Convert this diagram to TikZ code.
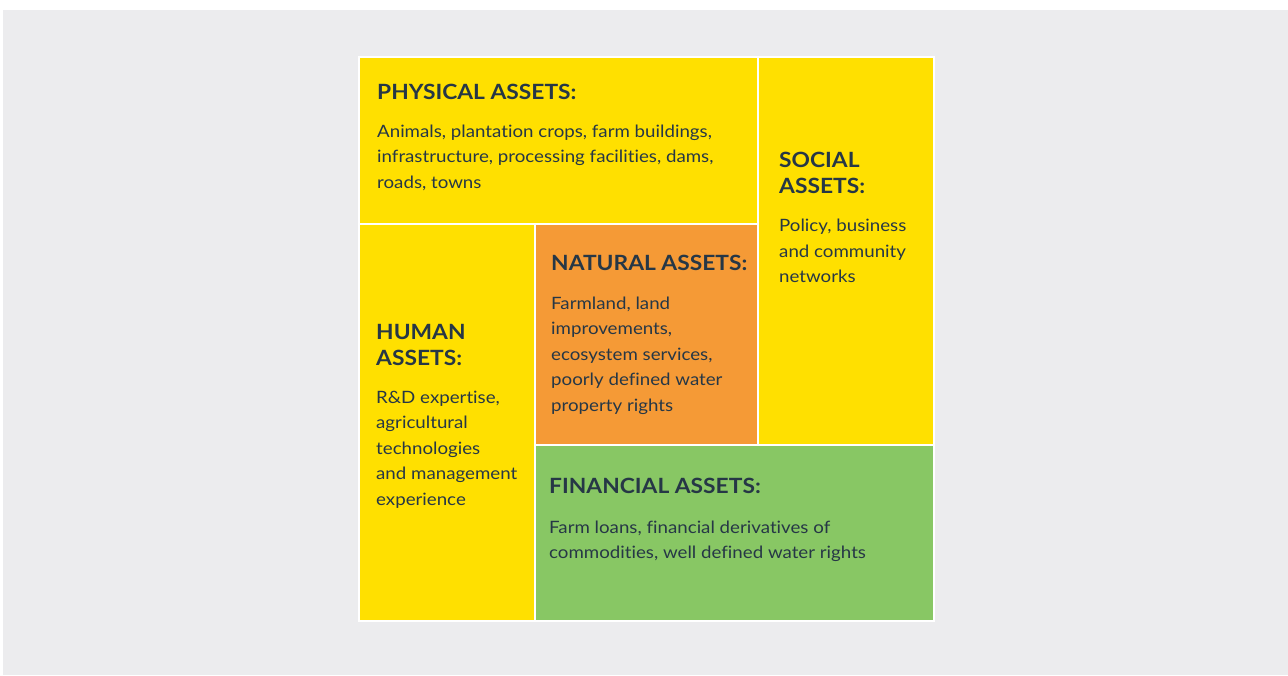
\documentclass[tikz,border=0pt]{standalone}
\usepackage{fontspec}
\setmainfont{Lato}[Ligatures={NoCommon},FakeStretch=1.1]
\newfontfamily\ttlfont{Lato}[Ligatures={NoCommon},FakeStretch=1.085]
\definecolor{bggray}{HTML}{ECECEE}
\definecolor{ayellow}{HTML}{FFE000}
\definecolor{aorange}{HTML}{F59A36}
\definecolor{agreen}{HTML}{88C764}
\definecolor{atext}{HTML}{263746}
\begin{document}
\begin{tikzpicture}[x=1pt,y=-1pt,
  cell/.style={draw=white,line width=1.2pt},
  ttl/.style={anchor=base west,inner sep=0pt,text=atext,font=\ttlfont\fontsize{21}{26}\selectfont\bfseries},
  bdy/.style={anchor=base west,inner sep=0pt,text=atext,font=\fontsize{17}{25.5}\selectfont}]
\useasboundingbox (0,0) rectangle (1288,675);
\fill[white] (0,0) rectangle (1288,675);
\fill[bggray] (3,10) rectangle (1288,675);
% cells
\filldraw[cell,fill=ayellow] (359,57) rectangle (758,224);
\filldraw[cell,fill=ayellow] (758,57) rectangle (934,445);
\filldraw[cell,fill=ayellow] (359,224) rectangle (535,621);
\filldraw[cell,fill=aorange] (535,224) rectangle (758,445);
\filldraw[cell,fill=agreen] (535,445) rectangle (934,621);
% physical
\node[ttl] (pt) at (377,99) {PHYSICAL ASSETS:};
\node[bdy] (p1) at (377,137.3) {Animals, plantation crops, farm buildings,};
\node[bdy] (p2) at (377,162.8) {infrastructure, processing facilities, dams,};
\node[bdy] (p3) at (377,188.3) {roads, towns};
% social
\node[ttl] (st1) at (779,167) {SOCIAL};
\node[ttl] (st2) at (779,193) {ASSETS:};
\node[bdy] (s1) at (779,231.7) {Policy, business};
\node[bdy] (s2) at (779,257.2) {and community};
\node[bdy] (s3) at (779,282.7) {networks};
% human
\node[ttl] (ht1) at (376,339) {HUMAN};
\node[ttl] (ht2) at (376,365) {ASSETS:};
\node[bdy] (h1) at (376,403.3) {R\&D expertise,};
\node[bdy] (h2) at (376,428.8) {agricultural};
\node[bdy] (h3) at (376,454.3) {technologies};
\node[bdy] (h4) at (376,479.8) {and management};
\node[bdy] (h5) at (376,505.3) {experience};
% natural
\node[ttl] (nt) at (551,270) {NATURAL ASSETS:};
\node[bdy] (n1) at (551,309.3) {Farmland, land};
\node[bdy] (n2) at (551,334.8) {improvements,};
\node[bdy] (n3) at (551,360.3) {ecosystem services,};
\node[bdy] (n4) at (551,385.8) {poorly defined water};
\node[bdy] (n5) at (551,411.3) {property rights};
% financial
\node[ttl] (ft) at (549,493.3) {FINANCIAL ASSETS:};
\node[bdy] (f1) at (549,533.3) {Farm loans, financial derivatives of};
\node[bdy] (f2) at (549,558.8) {commodities, well defined water rights};
\end{tikzpicture}
\end{document}
